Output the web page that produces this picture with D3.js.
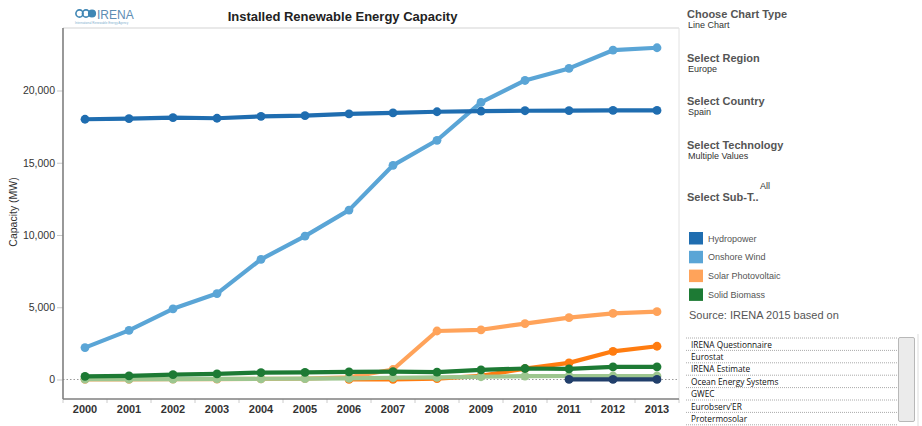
<!DOCTYPE html>
<html><head><meta charset="utf-8">
<script src="https://cdn.jsdelivr.net/npm/d3@7"></script>
<style>
body{margin:0;background:#fff;}
svg{display:block;font-family:"Liberation Sans",Arial,sans-serif;}
</style></head>
<body><svg id="c" width="922" height="426"></svg>
<script>
const years = [2000,2001,2002,2003,2004,2005,2006,2007,2008,2009,2010,2011,2012,2013];
const hydropower   = [18010,18060,18120,18080,18210,18260,18380,18450,18530,18570,18600,18610,18620,18620];
const onshoreWind  = [2206,3397,4891,5945,8317,9918,11722,14820,16555,19176,20693,21529,22789,22958];
const solarPV      = [12,15,20,27,37,58,148,690,3355,3440,3870,4280,4570,4690];
const csp          = [null,null,null,null,null,null,11,11,61,250,749,1149,1950,2300];
const solidBiomass = [210,250,340,390,480,490,530,550,510,670,760,740,870,880];
const biogas       = [20,25,30,40,50,60,80,120,150,190,230,240,240,240];
const offshoreWind = [null,null,null,null,null,null,null,null,null,null,null,5,5,5];
const yTicks = [0,5000,10000,15000,20000];
const legendItems = ["Hydropower","Onshore Wind","Solar Photovoltaic","Solid Biomass"];
const filters = [["Choose Chart Type","Line Chart"],["Select Region","Europe"],["Select Country","Spain"],["Select Technology","Multiple Values"]];
const sources = ["IRENA Questionnaire","Eurostat","IRENA Estimate","Ocean Energy Systems","GWEC","Eurobserv'ER","Protermosolar"];

const colors = {
  "Hydropower":"#1f6db0","Onshore Wind":"#5aa5d6","Solar Photovoltaic":"#ffa35a",
  "Solid Biomass":"#1d7a34","CSP":"#ff7c10","Biogas":"#9dc68f","Offshore Wind":"#213f6b"
};
const series = [
  {name:"Solar Photovoltaic", values:solarPV},
  {name:"CSP", values:csp},
  {name:"Biogas", values:biogas},
  {name:"Solid Biomass", values:solidBiomass},
  {name:"Offshore Wind", values:offshoreWind},
  {name:"Onshore Wind", values:onshoreWind},
  {name:"Hydropower", values:hydropower}
];

const svg = d3.select("#c");
const L=63, R=679, T=28, B=399;
const x = d3.scaleBand().domain(years).range([L,R]);
const y = d3.scaleLinear().domain([-1350,24325]).range([B,T]);
const cx = d => x(d)+x.bandwidth()/2;

// plot frame
svg.append("line").attr("x1",L).attr("x2",R).attr("y1",T).attr("y2",T).attr("stroke","#e2e2e2").attr("stroke-width",1.5);
svg.append("line").attr("x1",R).attr("x2",R).attr("y1",T).attr("y2",B).attr("stroke","#e2e2e2").attr("stroke-width",1);

// zero line
svg.append("line").attr("x1",L).attr("x2",R).attr("y1",y(0)).attr("y2",y(0))
  .attr("stroke","#999").attr("stroke-width",1).attr("stroke-dasharray","1.5,2");

// y axis
const ya = svg.append("g").attr("transform",`translate(${L},0)`)
  .call(d3.axisLeft(y).tickValues(yTicks).tickSize(6).tickPadding(2).tickFormat(d3.format(",")));
ya.select(".domain").remove();
ya.selectAll(".tick line").attr("stroke","#c8c8c8");
ya.selectAll(".tick text").attr("fill","#333").style("font-size","10.5px").style("font-family","Liberation Sans,Arial,sans-serif");
svg.append("line").attr("x1",L).attr("x2",L).attr("y1",T).attr("y2",B).attr("stroke","#7f7f7f").attr("stroke-width",1.6);

// x axis
const xa = svg.append("g").attr("transform",`translate(0,${B})`)
  .call(d3.axisBottom(x).tickSize(0).tickPadding(6));
xa.select(".domain").remove();
xa.selectAll(".tick text").attr("fill","#333").style("font-size","11px").style("font-weight","bold").style("font-family","Liberation Sans,Arial,sans-serif");
svg.append("g").selectAll("line").data(years.concat(["end"])).join("line")
  .attr("x1",(d,i)=>L+i*x.bandwidth()).attr("x2",(d,i)=>L+i*x.bandwidth())
  .attr("y1",B).attr("y2",B+4).attr("stroke","#ccc");
svg.append("line").attr("x1",L).attr("x2",R).attr("y1",B).attr("y2",B).attr("stroke","#7f7f7f").attr("stroke-width",1.6);

// y title
svg.append("text").attr("transform","translate(17,212) rotate(-90)").attr("text-anchor","middle")
  .attr("fill","#333").style("font-size","10.5px").text("Capacity (MW)");

// lines
const line = d3.line().defined(d=>d.v!=null).x(d=>cx(d.year)).y(d=>y(d.v));
series.forEach(s=>{
  const pts = years.map((yr,i)=>({year:yr,v:s.values[i]}));
  const g = svg.append("g");
  g.append("path").datum(pts).attr("d",line).attr("fill","none")
    .attr("stroke",colors[s.name]).attr("stroke-width",4.2).attr("stroke-linejoin","round");
  g.selectAll("circle").data(pts.filter(d=>d.v!=null)).join("circle")
    .attr("cx",d=>cx(d.year)).attr("cy",d=>y(d.v)).attr("r",4.4).attr("fill",colors[s.name]);
});

// title
svg.append("text").attr("x",342.5).attr("y",20.5).attr("text-anchor","middle")
  .attr("fill","#222").style("font-size","13px").style("font-weight","bold").text("Installed Renewable Energy Capacity");

// logo
const logo = svg.append("g").attr("fill","none").attr("stroke","#3f86b4").attr("stroke-width",1.6);
logo.append("circle").attr("cx",79.5).attr("cy",13.5).attr("r",3.6);
logo.append("circle").attr("cx",86).attr("cy",13.5).attr("r",3.6);
logo.append("circle").attr("cx",92).attr("cy",13.5).attr("r",3.3).attr("fill","#3f86b4");
svg.append("text").attr("x",97).attr("y",18.5).attr("fill","#5d8db3").style("font-size","12px").text("IRENA");
svg.append("text").attr("x",75).attr("y",24).attr("fill","#7fb0cf").style("font-size","3px").text("International Renewable Energy Agency");

// right panel filters
const fy = [17.5,61.5,105,148.5];
filters.forEach((f,i)=>{
  svg.append("text").attr("x",687).attr("y",fy[i]).attr("fill","#555").style("font-size","11px").style("font-weight","bold").text(f[0]);
  svg.append("text").attr("x",688).attr("y",fy[i]+10).attr("fill","#333").style("font-size","9px").text(f[1]);
});
svg.append("text").attr("x",760).attr("y",189).attr("fill","#333").style("font-size","9px").text("All");
svg.append("text").attr("x",687).attr("y",201).attr("fill","#555").style("font-size","11px").style("font-weight","bold").text("Select Sub-T..");

// legend
const lg = svg.append("g").selectAll("g").data(legendItems).join("g")
  .attr("transform",(d,i)=>`translate(689,${232+i*18.8})`);
lg.append("rect").attr("width",14).attr("height",12.5).attr("fill",d=>colors[d]);
lg.append("text").attr("x",19).attr("y",9.5).attr("fill","#555").style("font-size","9px").text(d=>d);

svg.append("text").attr("x",689).attr("y",319).attr("fill","#555").style("font-size","11px").text("Source: IRENA 2015 based on");

// source list
const rowH = 12.4, top0 = 338;
svg.append("line").attr("x1",686).attr("x2",897).attr("y1",top0).attr("y2",top0).attr("stroke","#aaa").attr("stroke-dasharray","1,1");
sources.forEach((s,i)=>{
  svg.append("text").attr("x",691).attr("y",top0+rowH*i+9.5).attr("fill","#111")
    .style("font-family","'Open Sans',sans-serif").style("font-size","8.3px").text(s);
  svg.append("line").attr("x1",686).attr("x2",897).attr("y1",top0+rowH*(i+1)).attr("y2",top0+rowH*(i+1))
    .attr("stroke","#aaa").attr("stroke-dasharray","1,1");
});
svg.append("rect").attr("x",898.5).attr("y",337.5).attr("width",16).attr("height",84).attr("rx",1.5)
  .attr("fill","#ebebeb").attr("stroke","#b8b8b8");
svg.append("line").attr("x1",918).attr("x2",918).attr("y1",334).attr("y2",426).attr("stroke","#ddd");
</script></body></html>
